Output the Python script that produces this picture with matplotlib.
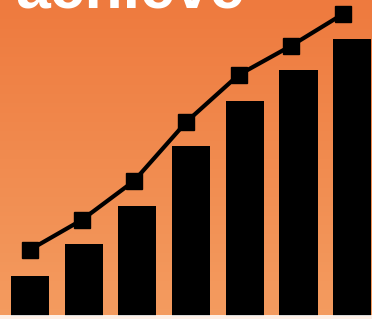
import matplotlib
matplotlib.use("Agg")
import matplotlib.pyplot as plt
import numpy as np
from matplotlib.colors import LinearSegmentedColormap

# Data
categories = [1, 2, 3, 4, 5, 6, 7]
bar_values = [40, 72, 110, 170, 215, 246, 277]
line_values = [66, 96, 135, 194, 241, 270, 302]
title_text = "achieve"

fig = plt.figure(figsize=(3.72, 3.19), dpi=100)
ax = fig.add_axes([0, 0, 1, 1])
ax.set_axis_off()

# background gradient
cmap = LinearSegmentedColormap.from_list("bg", ["#EE7A3E", "#F49C60"])
grad = np.linspace(0, 1, 256).reshape(-1, 1)
ax.imshow(grad, cmap=cmap, aspect="auto", extent=[0, 1, 0, 1],
          transform=ax.transAxes, zorder=0, origin="upper")

idx = np.arange(len(categories))
ax.bar(idx, bar_values, width=0.71, color="black", zorder=2)
ax.set_xlim(-0.5587, 6.369)
ax.set_ylim(-3, 316)

ax2 = ax.twiny()
ax2.set_axis_off()
ax2.plot(idx, line_values, color="black", lw=3.0, marker="s", ms=11,
         solid_joinstyle="miter", zorder=3)
ax2.set_xlim(-0.5646, 6.555)
ax2.set_ylim(-3, 316)

# torn bottom edge
ax.axhspan(-3, 1, color="white", alpha=0.85, zorder=4, lw=0)

# title text cut at top
fig.text(15 / 372, 1 - 7.5 / 319, title_text, color="white", fontsize=45,
         fontweight="bold", family="Liberation Sans", ha="left", va="baseline")

fig.savefig("out.png", dpi=100)
